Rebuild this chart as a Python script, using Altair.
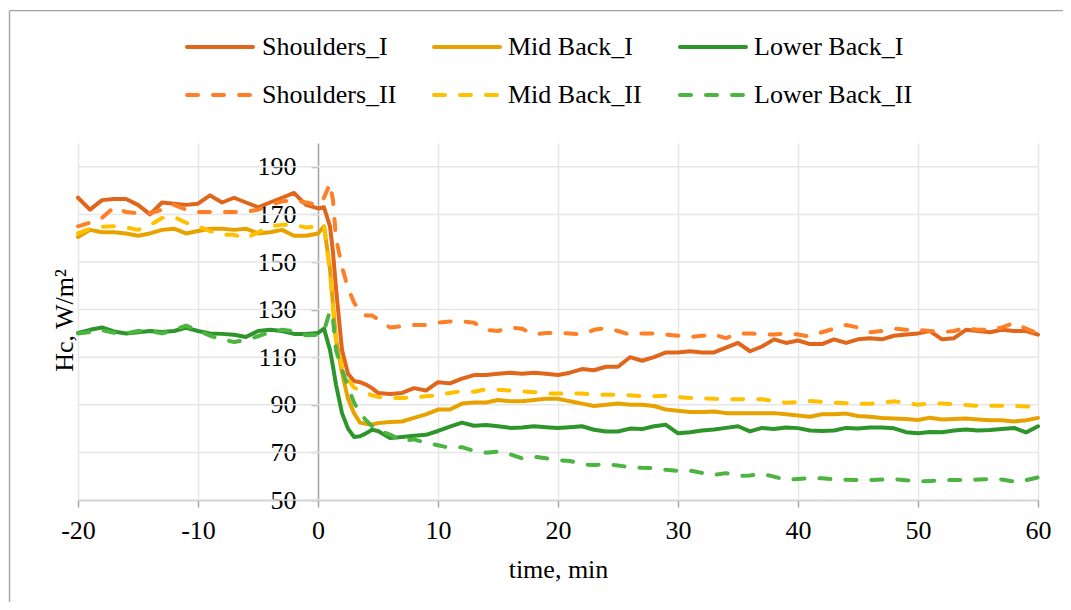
import altair as alt
import pandas as pd

FONT = "Liberation Serif"

# time axis (min)
time_min = list(range(-20, 0)) + [0, 0.5, 1, 1.25, 1.5, 2, 2.5, 3, 3.5, 4, 4.5, 5] + list(range(6, 61))

shoulders_I = [
    177, 172, 176, 176.5, 176.5, 174, 170, 175, 174.5, 174,
    174.5, 178, 175, 177, 175, 173, 175, 177, 179, 174,
    172.5, 173, 165, 154, 139, 113, 103, 100, 99.5, 98.5, 97, 95,
    94.5, 95, 97, 96, 99.5, 99, 101, 102.5, 102.5, 103,
    103.5, 103, 103.5, 103, 102.5, 103.5, 105, 104.5, 106, 106,
    110, 108.5, 110, 112, 112, 112.5, 112, 112, 114, 116,
    112.5, 114.5, 117.5, 116, 117, 115.5, 115.5, 117.5, 116, 117.5,
    118, 117.5, 119, 119.5, 120, 121, 117.5, 118, 121.5, 121,
    120.5, 121.5, 121, 121, 119.5,
]
shoulders_II = [
    165, 166.5, 168.5, 173, 171, 170.5, 170.5, 172, 174, 172,
    171, 171, 171, 171, 171, 172, 174, 175.5, 176, 175,
    174, 177, 183, 176, 160, 148, 139, 133, 129, 127.5, 127.5, 126,
    122.5, 123, 123.5, 123.5, 124.5, 125, 125, 124.5, 121.5, 121,
    122.5, 122, 119.5, 120.2, 120.2, 120, 119.5, 121.5, 122.3, 121,
    119.5, 120, 120, 119.5, 119, 118.5, 119, 119.5, 118, 120,
    120, 119.5, 119.5, 120, 119.5, 118.7, 120.5, 122, 123.5, 122.5,
    120.5, 121, 122, 121.5, 121.5, 121, 120.5, 121, 122.3, 121.5,
    121.5, 122.5, 124.4, 122, 120,
]
mid_back_I = [
    160.5, 163.5, 162.5, 162.5, 162, 161, 162, 163.5, 164, 162,
    163, 164, 164, 163.5, 164, 162, 162.5, 163.5, 161, 161,
    162, 165, 147, 132, 117.5, 103.5, 92.5, 86.5, 82.5, 82, 81.7, 82.3,
    82.8, 83, 84.5, 86, 88, 88, 90.5, 91, 91, 92,
    91.5, 91.5, 92, 92.5, 92.5, 91.5, 90.5, 89.5, 90, 90.5,
    90, 90, 89.5, 88, 87.5, 87, 87, 87.2, 86.5, 86.5,
    86.5, 86.5, 86.5, 86, 85.5, 85, 86, 86, 86.3, 85.3,
    85, 84.5, 84.2, 84, 83.6, 84.6, 83.8, 84, 84.2, 83.8,
    83.5, 83.5, 83, 83.5, 84.5,
]
mid_back_II = [
    162, 164, 164.8, 165, 164.5, 163.5, 165.5, 168.5, 169, 166.5,
    165, 163, 161.4, 161.4, 160, 162.5, 165, 165.6, 165.6, 164.5,
    165, 165.6, 145.4, 131, 117.3, 106, 100.5, 97.3, 96, 95, 94, 93.3,
    92.9, 92.9, 93, 93.6, 94, 95, 95.8, 95.5, 96.5, 96.3,
    96, 95.6, 95.3, 94.8, 94.7, 94.9, 94.7, 94.3, 94.2, 94.2,
    94, 93.6, 93.6, 93.8, 93.2, 92.9, 92.7, 92.5, 92.4, 92.3,
    92.3, 92.3, 91.6, 90.9, 91.2, 91.6, 91.3, 90.9, 90.7, 90.5,
    90.4, 90.9, 91.5, 90.8, 90, 90.6, 90.5, 90.3, 89.9, 89.6,
    89.6, 89.6, 89.5, 89.3, 89.1,
]
lower_back_I = [
    120.2, 121.5, 122.5, 120.8, 120, 120.5, 121, 120.6, 121, 122.3,
    121, 120, 119.8, 119.4, 118.5, 121, 121.5, 121, 119.8, 119.8,
    120.2, 122, 113, 106, 98.5, 86.5, 80, 76.5, 76.8, 78, 79.5, 79,
    76, 76.5, 77, 77.4, 79, 80.8, 82.5, 81.2, 81.5, 81,
    80.3, 80.5, 81, 80.6, 80.3, 80.6, 81, 79.5, 78.8, 78.8,
    80, 79.8, 81, 81.6, 78, 78.5, 79.2, 79.6, 80.3, 81,
    78.8, 80.3, 79.8, 80.5, 80.2, 79.2, 79, 79.2, 80.3, 80,
    80.5, 80.5, 80.1, 78.5, 78, 78.6, 78.5, 79.2, 79.6, 79.2,
    79.4, 79.8, 80.3, 78.4, 81,
]
lower_back_II = [
    120, 120.5, 121.3, 120.3, 120, 121, 121, 120, 121.5, 123.3,
    121.3, 119, 117.5, 116.4, 117.3, 118.8, 120.5, 121.5, 121, 119.2,
    119.4, 121, 129.5, 126, 113, 105, 97.5, 91, 86.5, 83.5, 81, 79.4,
    77.5, 74.8, 75.5, 74, 73, 71.9, 72.2, 70.6, 69.9, 70.3,
    69.2, 67.5, 68.2, 67.5, 66.7, 66.4, 65, 64.7, 65.1, 64.5,
    63.8, 63.5, 63.4, 62.7, 62.2, 62.4, 61.4, 60.5, 61.3, 60.2,
    60.3, 61, 59.8, 58.5, 58.8, 59.2, 59.1, 58.7, 58.5, 58.4,
    58.4, 58.6, 58.8, 58.3, 57.8, 58, 58.3, 58.4, 58.4, 58.6,
    58.8, 58.6, 57.7, 58.3, 59.5,
]

series_names = ["Shoulders_I", "Mid Back_I", "Lower Back_I",
                "Shoulders_II", "Mid Back_II", "Lower Back_II"]
series_values = [shoulders_I, mid_back_I, lower_back_I,
                 shoulders_II, mid_back_II, lower_back_II]
series_colors = ["#E0661C", "#E8A200", "#2E952A", "#FF7F27", "#FFC000", "#4CB440"]

x_ticks = [-20, -10, 0, 10, 20, 30, 40, 50, 60]
y_ticks = [50, 70, 90, 110, 130, 150, 170, 190]

rows = []
for name, vals in zip(series_names, series_values):
    assert len(vals) == len(time_min), (name, len(vals))
    for t, v in zip(time_min, vals):
        rows.append({"t": t, "v": v, "series": name})
df = pd.DataFrame(rows)
solid_df = df[df["series"].str.endswith("_I")]
dashed_df = df[df["series"].str.endswith("_II")]

AX = "#a6a6a6"
GRID = "#e6e6e6"
DASH = [11, 15]
SW = 4

xscale = alt.Scale(domain=[-20, 60], nice=False, zero=False)
yscale = alt.Scale(domain=[50, 200], nice=False, zero=False)
cscale = alt.Scale(domain=series_names, range=series_colors)

x_axis = alt.Axis(values=x_ticks, title="time, min", grid=True, gridColor=GRID, gridWidth=1.5,
                  domainColor=AX, domainWidth=1.5, tickColor=AX, tickWidth=1.5, tickSize=7,
                  labelFont=FONT, labelFontSize=26, labelColor="black", labelBaseline="alphabetic",
                  labelPadding=31, labelFlush=False, labelOverlap=False,
                  labelExpr="'' + datum.value",
                  titleFont=FONT, titleFontSize=26, titleFontWeight="normal", titleColor="black",
                  titleBaseline="alphabetic", titleY=77, titleX=480)
y_axis = alt.Axis(values=y_ticks, title="Hc, W/m²", grid=False, offset=-240,
                  domainColor=AX, domainWidth=1.5, tickColor=AX, tickWidth=1.5, tickSize=7,
                  labelFont=FONT, labelFontSize=26, labelColor="black", labelPadding=15,
                  labelOverlap=False, labelExpr="'' + datum.value",
                  titleFont=FONT, titleFontSize=26, titleFontWeight="normal", titleColor="black",
                  titleAngle=270, titleBaseline="alphabetic", titleAlign="center",
                  titleX=-246, titleY=177)

hgrid = alt.Chart(pd.DataFrame({"v": y_ticks})).mark_rule(color=GRID, strokeWidth=1.5).encode(
    y=alt.Y("v:Q", scale=yscale, axis=y_axis))

solid = alt.Chart(solid_df).mark_line(strokeWidth=SW, strokeJoin="round", strokeCap="round").encode(
    x=alt.X("t:Q", scale=xscale, axis=x_axis),
    y=alt.Y("v:Q", scale=yscale, axis=y_axis),
    color=alt.Color("series:N", scale=cscale, legend=None),
    detail="series:N",
)
dashed = alt.Chart(dashed_df).mark_line(strokeWidth=SW, strokeJoin="round", strokeCap="round",
                                        strokeDash=DASH).encode(
    x=alt.X("t:Q", scale=xscale, axis=x_axis),
    y=alt.Y("v:Q", scale=yscale, axis=y_axis),
    color=alt.Color("series:N", scale=cscale, legend=None),
    detail="series:N",
)

one = pd.DataFrame({"k": [0]})
legend_layers = []
col_sym_x = [107, 354, 600]
col_txt_x = [184, 430, 676]
row_y = [-96, -48]
for i, name in enumerate(series_names):
    c, r = i % 3, i // 3
    kw = dict(color=series_colors[i], strokeWidth=SW, strokeCap="round")
    if r == 1:
        kw["strokeDash"] = DASH
    legend_layers.append(
        alt.Chart(one).mark_rule(**kw).encode(
            x=alt.value(col_sym_x[c] + 2), x2=alt.value(col_sym_x[c] + 68), y=alt.value(row_y[r])))
    legend_layers.append(
        alt.Chart(one).mark_text(text=name, align="left", baseline="middle", font=FONT,
                                 fontSize=26, color="black").encode(
            x=alt.value(col_txt_x[c]), y=alt.value(row_y[r])))

frame_top = alt.Chart(one).mark_rule(color="#a0a0a0", strokeWidth=1.3).encode(
    x=alt.value(-68.5), x2=alt.value(990), y=alt.value(-132.3))
frame_left = alt.Chart(one).mark_rule(color="#a0a0a0", strokeWidth=1.3).encode(
    x=alt.value(-68.5), y=alt.value(-132.3), y2=alt.value(470))

chart = alt.layer(hgrid, solid, dashed, frame_top, frame_left, *legend_layers).properties(
    width=960, height=357,
    autosize=alt.AutoSizeParams(type="none"),
    padding={"left": 70, "top": 135, "right": 25, "bottom": 102},
).configure_view(stroke=None).configure_text(font=FONT)

chart.save("out.html", embed_options={"renderer": "svg", "actions": False})
